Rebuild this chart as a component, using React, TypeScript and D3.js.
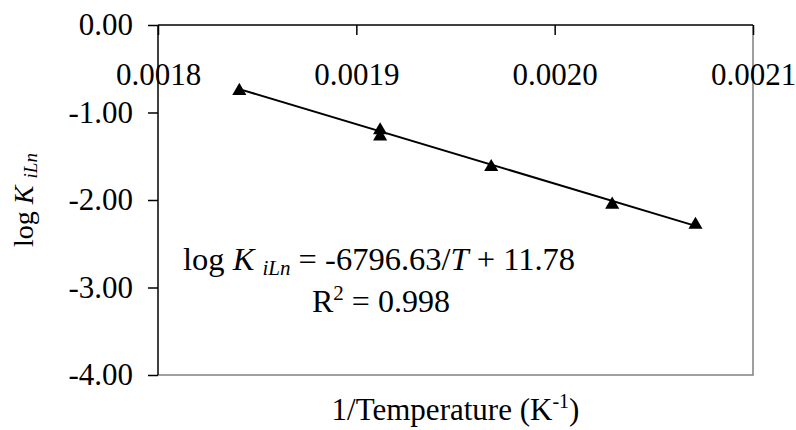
import React, { useRef, useEffect } from 'react';
import * as d3 from 'd3';

// 1/T (K^-1) and log K_iLn
const invTemp = [0.001841, 0.001912, 0.001912, 0.001968, 0.002029, 0.002071];
const logK = [-0.73, -1.18, -1.25, -1.6, -2.03, -2.26];
// trendline coefficients from the printed equation
const fitSlope = -6796.63;
const fitIntercept = 11.78;
const xTicks = [0.0018, 0.0019, 0.002, 0.0021];
const yTicks = [0, -1, -2, -3, -4];

const W = 796;
const H = 430;
const FONT = "'Liberation Serif', 'DejaVu Serif', serif";

// triangle centred on its bounding box
const triangle = {
  draw(ctx: any, size: number) {
    const w = Math.sqrt(size);
    const h = w * 0.85;
    ctx.moveTo(0, -h / 2);
    ctx.lineTo(w / 2, h / 2);
    ctx.lineTo(-w / 2, h / 2);
    ctx.closePath();
  },
};

const App = () => {
  const svgRef = useRef<SVGSVGElement>(null);

  useEffect(() => {
    document.body.style.margin = '0';
    const svg = d3.select(svgRef.current);
    svg.selectAll('*').remove();

    const left = 158, right = 753, top = 25, bottom = 375;

    const x = d3.scaleLinear().domain([0.0018, 0.0021]).range([left, right]);
    const y = d3.scaleLinear().domain([-4, 0]).range([bottom, top]);

    const loc = d3.formatLocale({ decimal: '.', thousands: ',', grouping: [3], currency: ['$', ''], minus: '-' });

    // plot border (gray right / bottom)
    svg.append('path')
      .attr('d', `M${left},${bottom}H${right}V${top}`)
      .attr('fill', 'none')
      .attr('stroke', '#808080')
      .attr('stroke-width', 1.5);

    // x axis sits at y = 0, ticks pointing down into the plot
    const xAxis = d3.axisBottom(x)
      .tickValues(xTicks)
      .tickSize(10)
      .tickFormat(d => loc.format('.4f')(d as number));
    const gx = svg.append('g').attr('transform', `translate(0,${y(0)})`).call(xAxis);
    gx.attr('font-family', null).attr('font-size', null);
    gx.select('.domain').attr('d', `M${left},0H${right}`).attr('stroke', '#000').attr('stroke-width', 1.5);
    gx.selectAll('line').attr('stroke', '#000').attr('stroke-width', 1.5);
    gx.selectAll('text')
      .style('font-family', FONT)
      .style('font-size', '31px')
      .attr('fill', '#000')
      .attr('dy', null)
      .attr('y', 60);

    const yAxis = d3.axisLeft(y)
      .tickValues(yTicks)
      .tickSize(10)
      .tickPadding(15)
      .tickFormat(d => loc.format('.2f')(d as number));
    const gy = svg.append('g').attr('transform', `translate(${left},0)`).call(yAxis);
    gy.attr('font-family', null).attr('font-size', null);
    gy.select('.domain').attr('d', `M0,${top}V${bottom}`).attr('stroke', '#000').attr('stroke-width', 1.5);
    gy.selectAll('line').attr('stroke', '#000').attr('stroke-width', 1.5);
    gy.selectAll('text')
      .style('font-family', FONT)
      .style('font-size', '31px')
      .attr('fill', '#000');

    // trendline
    const ext = d3.extent(invTemp) as [number, number];
    const line = d3.line<number>().x(d => x(d)).y(d => y(fitSlope * d + fitIntercept));
    svg.append('path')
      .datum(ext)
      .attr('d', line)
      .attr('fill', 'none')
      .attr('stroke', '#000')
      .attr('stroke-width', 2);

    // points
    const sym = d3.symbol().type(triangle as any).size(200);
    svg.append('g')
      .selectAll('path')
      .data(invTemp)
      .join('path')
      .attr('d', sym)
      .attr('transform', (d, i) => `translate(${x(d)},${y(logK[i])})`)
      .attr('fill', '#000');

    // equation
    const eq = svg.append('text')
      .attr('x', 183).attr('y', 270)
      .style('font-family', FONT).style('font-size', '32.5px').attr('fill', '#000');
    eq.append('tspan').text('log ');
    eq.append('tspan').attr('font-style', 'italic').text('K ');
    eq.append('tspan').attr('font-style', 'italic').style('font-size', '21px').attr('dy', 5).text('iLn');
    eq.append('tspan').attr('dy', -5).text('  = -6796.63/');
    eq.append('tspan').attr('font-style', 'italic').text('T');
    eq.append('tspan').text(' + 11.78');

    const r2 = svg.append('text')
      .attr('x', 312).attr('y', 312)
      .style('font-family', FONT).style('font-size', '32px').attr('fill', '#000');
    r2.append('tspan').text('R');
    r2.append('tspan').style('font-size', '21px').attr('dy', -12).text('2');
    r2.append('tspan').attr('dy', 12).text(' = 0.998');

    // x title
    const xt = svg.append('text')
      .attr('x', (left + right) / 2).attr('y', 420)
      .attr('text-anchor', 'middle')
      .style('font-family', FONT).style('font-size', '31px').attr('fill', '#000');
    xt.append('tspan').text('1/Temperature (K');
    xt.append('tspan').style('font-size', '20px').attr('dy', -12).text('-1');
    xt.append('tspan').attr('dy', 12).text(')');

    // y title
    const yt = svg.append('text')
      .attr('transform', `translate(33,${(top + bottom) / 2}) rotate(-90)`)
      .attr('text-anchor', 'middle')
      .style('font-family', FONT).style('font-size', '28px').attr('fill', '#000');
    yt.append('tspan').text('log ');
    yt.append('tspan').attr('font-style', 'italic').text('K ');
    yt.append('tspan').attr('font-style', 'italic').style('font-size', '19px').attr('dy', 4).text('iLn');
  }, []);

  return <svg ref={svgRef} width={W} height={H} style={{ display: 'block', background: '#fff' }} />;
};

export default App;
